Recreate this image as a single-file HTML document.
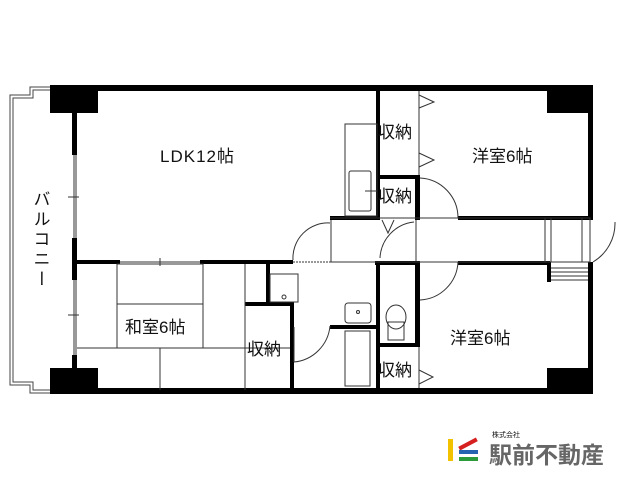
<!DOCTYPE html>
<html><head><meta charset="utf-8"><style>
body{margin:0;background:#fff;width:640px;height:480px;overflow:hidden}
svg text{font-family:"Liberation Sans","Noto Sans CJK JP",sans-serif;fill:#111}
</style></head><body>
<svg width="640" height="480" viewBox="0 0 640 480" xmlns="http://www.w3.org/2000/svg">
<g fill="none" stroke="#444" stroke-width="1">
<path d="M50,87 H30 V95 H10 V385 H30 V393 H50"/>
<path d="M50,90 H33 V98 H13 V382 H33 V390 H50"/>
</g>
<g fill="#000">
<rect x="50" y="85" width="543" height="6"/>
<rect x="50" y="388" width="543" height="6"/>
<rect x="50" y="85" width="48" height="28"/>
<rect x="50" y="368" width="48" height="26"/>
<rect x="547" y="85" width="46" height="28"/>
<rect x="547" y="368" width="46" height="26"/>
<rect x="588" y="85" width="5" height="133"/>
<rect x="588" y="262" width="5" height="132"/>
<rect x="72" y="85" width="5" height="70"/>
<rect x="72" y="238" width="5" height="42"/>
<rect x="72" y="355" width="5" height="39"/>
<rect x="75" y="260" width="45" height="4"/>
<rect x="200" y="260" width="93" height="4"/>
<rect x="330" y="216" width="50" height="4"/>
<rect x="415" y="216" width="5" height="4"/>
<rect x="458" y="216" width="135" height="4"/>
<rect x="375" y="261" width="45" height="4"/>
<rect x="458" y="261" width="92" height="4"/>
<rect x="547" y="262" width="4" height="20"/>
<rect x="376" y="86" width="4" height="134"/>
<rect x="376" y="261" width="4" height="130"/>
<rect x="415" y="176" width="5" height="44"/>
<rect x="376" y="175" width="44" height="4"/>
<rect x="415" y="261" width="5" height="85"/>
<rect x="376" y="343" width="44" height="4"/>
<rect x="266" y="262" width="4" height="42"/>
<rect x="245" y="302" width="49" height="4"/>
<rect x="290" y="302" width="4" height="90"/>
<rect x="330" y="325" width="48" height="4"/>
</g>
<g fill="none" stroke="#333" stroke-width="1">
<line x1="74" y1="155" x2="74" y2="238"/><line x1="76" y1="155" x2="76" y2="238"/>
<line x1="74" y1="280" x2="74" y2="355"/><line x1="76" y1="280" x2="76" y2="355"/>
<line x1="68" y1="197" x2="79" y2="197"/><line x1="68" y1="315" x2="79" y2="315"/>
<line x1="120" y1="262" x2="200" y2="262"/><line x1="160" y1="258" x2="160" y2="266"/>
<rect x="117" y="264" width="86" height="84"/>
<line x1="117" y1="304" x2="203" y2="304"/>
<line x1="77" y1="348" x2="290" y2="348"/>
<line x1="160" y1="348" x2="160" y2="390"/>
<line x1="245" y1="264" x2="245" y2="390"/>
<path d="M294,362 A40,40 0 0 0 330,326"/>
<line x1="294" y1="362" x2="294" y2="327"/>
<rect x="345" y="124" width="32" height="92"/>
<rect x="349" y="171" width="22" height="40" rx="2"/>
<line x1="365" y1="191" x2="377" y2="191"/>
<path d="M293,260 A35,35 0 0 1 330,223"/>
<line x1="293" y1="262" x2="333" y2="262" stroke-dasharray="2,1"/>
<line x1="331" y1="220" x2="331" y2="262"/>
<line x1="330" y1="218" x2="590" y2="218"/>
<line x1="330" y1="262" x2="590" y2="262"/>
<line x1="416" y1="220" x2="416" y2="261"/>
<path d="M380,258 A38,38 0 0 1 414,222"/>
<path d="M382,220 L388,233 L394,220"/>
<rect x="545" y="218" width="6" height="44"/>
<rect x="582" y="218" width="8" height="44"/>
<path d="M593,262 A45,45 0 0 0 615,222"/>
<line x1="551" y1="268" x2="588" y2="268"/><line x1="551" y1="272" x2="588" y2="272"/>
<line x1="551" y1="276" x2="588" y2="276"/><line x1="551" y1="280" x2="588" y2="280"/>
<path d="M420,178 A40,40 0 0 1 458,218"/>
<path d="M420,300 A40,40 0 0 0 458,262"/>
<line x1="419" y1="91" x2="419" y2="175"/>
<path d="M419,95 L434,102 L419,108"/><path d="M419,153 L434,160 L419,167"/>
<line x1="419" y1="347" x2="419" y2="388"/>
<path d="M419,370 L433,377 L419,384"/>
<rect x="270" y="274" width="28" height="28"/>
<circle cx="284" cy="297" r="2"/>
<rect x="345" y="303" width="26" height="20" rx="3"/>
<circle cx="358" cy="312" r="1.5"/>
<rect x="345" y="331" width="25" height="55"/>
<rect x="388" y="322" width="16" height="18"/>
<ellipse cx="396" cy="317" rx="10" ry="12"/>
</g>
<g font-size="17">
<text x="160" y="162" letter-spacing="1">LDK12帖</text>
<text x="125" y="333">和室6帖</text>
<text x="247" y="355">収納</text>
<text x="378" y="138">収納</text>
<text x="378" y="202">収納</text>
<text x="378" y="376">収納</text>
<text x="472" y="162">洋室6帖</text>
<text x="450" y="344">洋室6帖</text>
<text x="40" y="190" writing-mode="tb" letter-spacing="3">バルコニー</text>
</g>
<rect x="448" y="439" width="5" height="22" fill="#f2c200"/>
<rect x="458" y="442" width="20" height="4" fill="#d62020" transform="rotate(-28 468 444)"/>
<rect x="459" y="450" width="19" height="4" fill="#2563b0"/>
<rect x="459" y="457" width="19" height="4" fill="#2a9a3a"/>
<text x="492" y="437" font-size="7" fill="#555">株式会社</text>
<text x="489" y="463" font-size="23" style="fill:#666" font-weight="bold">駅前不動産</text>
</svg>
</body></html>
